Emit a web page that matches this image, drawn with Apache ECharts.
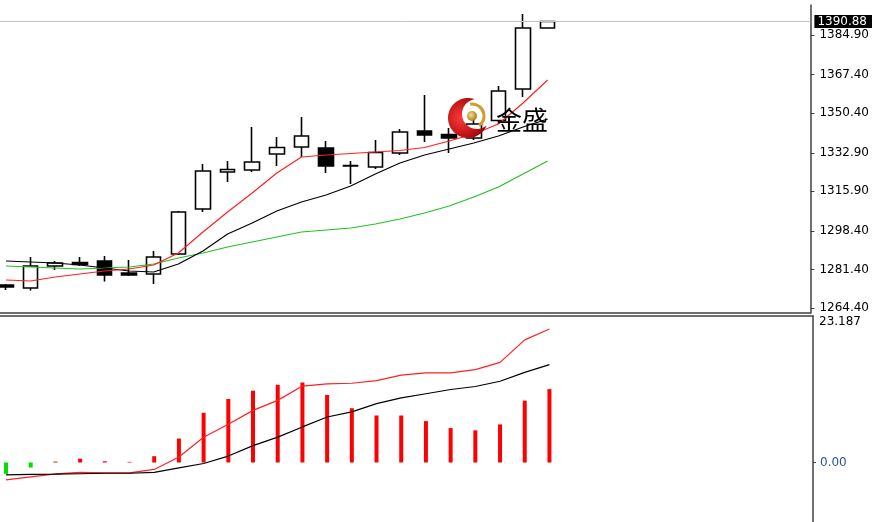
<!DOCTYPE html>
<html><head><meta charset="utf-8">
<script src="https://cdn.jsdelivr.net/npm/echarts@6/dist/echarts.min.js"></script>
<style>html,body{margin:0;padding:0;background:#fff}#c{width:872px;height:522px}</style>
</head><body><div id="c"></div>
<script>
// ---- data ----
const barIndex = [0,1,2,3,4,5,6,7,8,9,10,11,12,13,14,15,16,17,18,19,20,21,22];
const opens  = [1274.55,1273.23,1282.94,1284.48,1285.15,1279.85,1279.40,1288.24,1308.10,1324.43,1325.31,1332.37,1335.46,1335.02,1327.08,1326.64,1332.82,1342.53,1340.98,1339.44,1347.16,1361.06,1387.99];
const closes = [1273.67,1282.94,1284.26,1283.60,1278.97,1278.97,1286.91,1306.77,1324.87,1325.53,1328.84,1335.24,1340.32,1327.08,1327.30,1333.04,1342.08,1340.76,1339.44,1345.62,1360.18,1387.99,1390.88];
const lows   = [1272.35,1272.12,1281.17,1282.94,1276.10,1278.52,1274.99,1287.79,1306.77,1320.02,1324.43,1327.08,1331.05,1323.99,1319.13,1325.75,1331.93,1337.67,1332.82,1338.55,1345.62,1357.53,1387.99];
const highs  = [1275.00,1286.91,1285.15,1286.91,1287.35,1285.59,1289.56,1307.21,1327.96,1329.28,1344.29,1339.88,1348.71,1338.11,1329.28,1338.55,1343.41,1358.42,1343.85,1347.38,1362.39,1394.17,1390.88];
const maRed   = [1276.76,1276.32,1278.08,1279.41,1280.73,1281.61,1283.38,1288.68,1297.95,1306.77,1315.16,1323.99,1331.05,1331.93,1332.59,1333.26,1333.92,1335.24,1338.11,1341.20,1345.62,1354.89,1365.04];
const maBlack = [1285.15,1284.70,1284.26,1283.38,1282.06,1280.73,1280.29,1283.82,1289.56,1297.06,1301.92,1307.21,1311.19,1314.28,1318.25,1323.55,1328.40,1331.93,1334.58,1337.23,1340.32,1344.29,1347.82];
const maGreen = [1282.94,1282.50,1282.06,1281.61,1282.06,1282.50,1283.82,1286.47,1288.68,1291.32,1293.53,1295.74,1297.95,1298.83,1299.71,1301.48,1303.68,1306.33,1309.42,1313.39,1317.81,1323.55,1329.28];
const hist     = [-1.80,-0.80,0.15,0.60,0.20,0.10,1.00,3.79,7.86,10.06,11.36,12.30,12.66,10.68,8.59,7.44,7.44,6.55,5.45,5.09,6.03,9.79,11.62];
const sigRed   = [-2.75,-2.28,-1.81,-1.57,-1.65,-1.65,-1.10,0.86,4.01,6.05,8.25,9.83,12.10,12.45,12.54,12.97,13.83,14.18,14.18,14.70,15.85,19.41,21.14];
const sigBlack = [-1.97,-1.89,-1.85,-1.78,-1.70,-1.70,-1.57,-0.86,-0.16,1.02,2.67,4.01,5.63,7.20,8.02,9.31,10.22,10.88,11.55,12.03,12.86,14.27,15.48];
const priceTicks = [1264.40,1281.40,1298.40,1315.90,1332.90,1350.40,1367.40,1384.90];
const lastPrice = 1390.88;
const indTicks = [0.00];
const indMax = 23.187;
const logoText = '金盛';

// ---- chart ----
const chart = echarts.init(document.getElementById('c'));
const pair = arr => arr.map((v, k) => [barIndex[k], v]);
const candles = barIndex.map((x, k) => [x, opens[k], closes[k], lows[k], highs[k]]);
const FONT = 'DejaVu Sans';
const FS = 12;
const axisCol = '#404040';
const xCommon = {type:'value', min:-0.243, max:32.67, axisLine:{show:true, onZero:false, lineStyle:{color:axisCol, width:1.5}},
  axisTick:{show:false}, axisLabel:{show:false}, splitLine:{show:false}};

// crescent logo outline (decoration)
function crescentPts() {
  const pts = [];
  const d2r = Math.PI / 180;
  for (let a = -70.4; a >= -337.7; a -= 6) pts.push([468 + 20 * Math.cos(a * d2r), 118 + 20 * Math.sin(a * d2r)]);
  pts.push([486.5, 125.6]);
  for (let a = 50.7; a <= 261.2; a += 6) pts.push([477 + 15 * Math.cos(a * d2r), 114 + 15 * Math.sin(a * d2r)]);
  return pts;
}

const option = {
  animation:false,
  backgroundColor:'#fff',
  grid:[{left:0, right:59, top:5, height:308}, {left:0, right:59, top:316, bottom:0}],
  xAxis:[Object.assign({gridIndex:0, position:'bottom'}, xCommon), Object.assign({gridIndex:1, position:'top'}, xCommon)],
  yAxis:[
    {gridIndex:0, type:'value', position:'right', min:1262.193, max:1398.141,
     axisLine:{show:true, onZero:false, lineStyle:{color:axisCol, width:1.5}},
     axisTick:{show:true, customValues:priceTicks, length:4, lineStyle:{color:axisCol}},
     axisLabel:{customValues:priceTicks, formatter:v=>Number(v).toFixed(2), color:'#000', fontFamily:FONT, fontSize:FS, margin:9},
     splitLine:{show:false}},
    {gridIndex:1, type:'value', position:'right', min:-9.417, max:indMax,
     axisLine:{show:true, onZero:false, lineStyle:{color:axisCol, width:1.5}},
     axisTick:{show:true, customValues:indTicks, length:3, lineStyle:{color:axisCol}},
     axisLabel:{customValues:indTicks, formatter:v=>Number(v).toFixed(2), color:'#2f5597', fontFamily:FONT, fontSize:FS, margin:7},
     splitLine:{show:false}},
    {gridIndex:1, type:'value', position:'right', min:-9.417, max:indMax,
     axisLine:{show:false, onZero:false}, axisTick:{show:false},
     axisLabel:{customValues:[indMax], formatter:v=>Number(v).toFixed(3), verticalAlign:'top', color:'#000', fontFamily:FONT, fontSize:FS, margin:6},
     splitLine:{show:false}}
  ],
  series:[
    {type:'candlestick', xAxisIndex:0, yAxisIndex:0, data:candles, encode:{x:0, y:[1,2,3,4]}, barWidth:15,
     itemStyle:{color:'#fff', color0:'#000', borderColor:'#000', borderColor0:'#000', borderWidth:1.6},
     markLine:{silent:true, symbol:['none','none'], data:[{yAxis:lastPrice}],
       lineStyle:{color:'#c4c4c4', type:'solid', width:1},
       label:{position:'end', distance:4, formatter:()=>lastPrice.toFixed(2), backgroundColor:'#000', color:'#fff',
              padding:[1,6,0,3], fontFamily:FONT, fontSize:FS}}},
    {type:'line', xAxisIndex:0, yAxisIndex:0, data:pair(maGreen), symbol:'none', lineStyle:{color:'#22c322', width:1.2}},
    {type:'line', xAxisIndex:0, yAxisIndex:0, data:pair(maBlack), symbol:'none', lineStyle:{color:'#000', width:1.2}},
    {type:'line', xAxisIndex:0, yAxisIndex:0, data:pair(maRed), symbol:'none', lineStyle:{color:'#ff2020', width:1.2}},
    {type:'bar', xAxisIndex:1, yAxisIndex:1, data:pair(hist), barWidth:4,
     itemStyle:{color:p=>p.value[1] >= 0 ? '#ff0000' : '#00e000'}},
    {type:'line', xAxisIndex:1, yAxisIndex:1, data:pair(sigRed), symbol:'none', lineStyle:{color:'#ff2020', width:1.2}},
    {type:'line', xAxisIndex:1, yAxisIndex:1, data:pair(sigBlack), symbol:'none', lineStyle:{color:'#000', width:1.2}}
  ],
  graphic:[
    {type:'polygon', z:100, shape:{points:crescentPts()},
     style:{fill:new echarts.graphic.RadialGradient(0.35, 0.5, 0.7, [{offset:0, color:'#ff3b3b'},{offset:1, color:'#9a0000'}])}},
    {type:'arc', z:101, shape:{cx:472, cy:116, r:12, startAngle:-Math.PI*0.55, endAngle:Math.PI*0.3, clockwise:true},
     style:{stroke:'#c9a02e', lineWidth:3, fill:null}},
    {type:'circle', z:102, shape:{cx:472, cy:116, r:5},
     style:{fill:new echarts.graphic.RadialGradient(0.4, 0.4, 0.6, [{offset:0, color:'#f6e08a'},{offset:1, color:'#a8801a'}])}},
    {type:'text', z:103, x:496, y:120, style:{text:logoText, font:'26px "Noto Sans CJK SC"', fill:'#000', verticalAlign:'middle'}}
  ]
};
try {
  chart.setOption(option);
} catch (e) {
  console.error('setOption failed: ' + e.message + '\n' + e.stack);
}
</script></body></html>
